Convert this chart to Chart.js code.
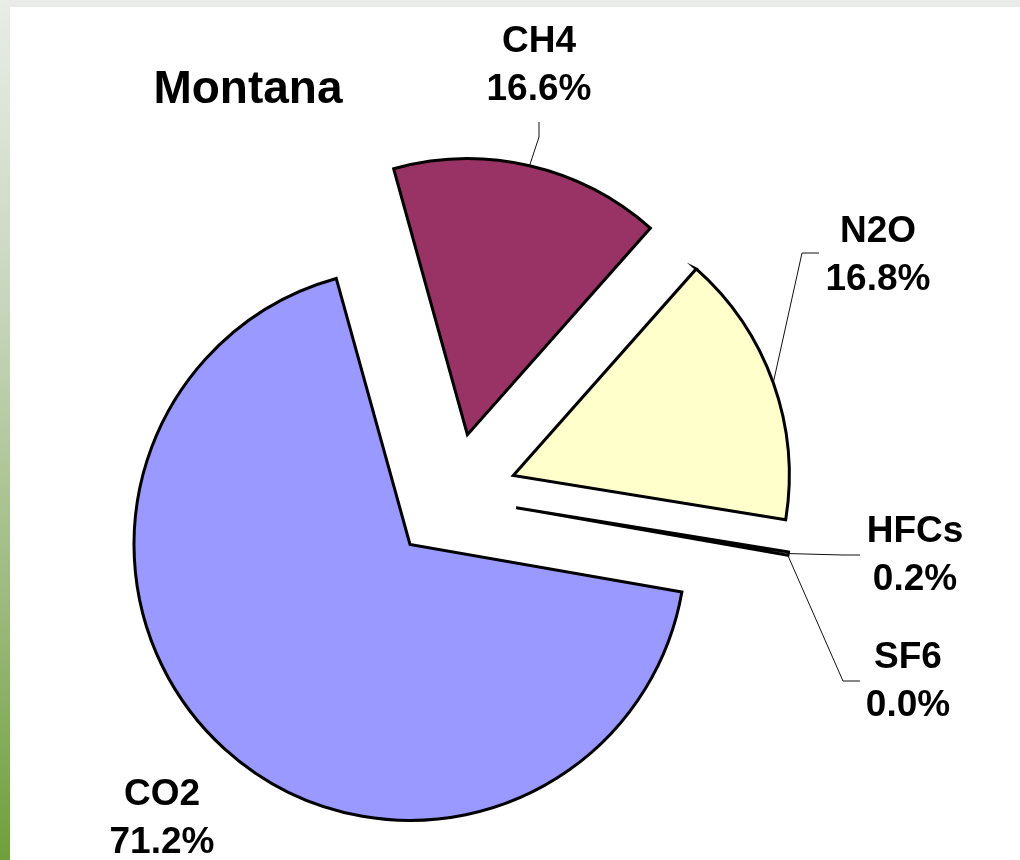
<!DOCTYPE html>
<html>
<head>
<meta charset="utf-8">
<title>Montana</title>
<script src="https://cdn.jsdelivr.net/npm/chart.js@4.4.1/dist/chart.umd.min.js"></script>
<style>
  body { margin: 0; background: #fff; }
  #wrap { position: relative; width: 1020px; height: 860px; overflow: hidden; background: #fff; }
  #topbar { position: absolute; left: 0; top: 0; width: 1020px; height: 7px; background: #e8ece6; }
  #sidebar { position: absolute; left: 0; top: 0; width: 10px; height: 860px;
    background: linear-gradient(#e8ede6, #c8d6bd 35%, #9cba7e 70%, #6f9f3b); }
  canvas { position: absolute; left: 0; top: 0; }
</style>
</head>
<body>
<div id="wrap">
  <div id="topbar"></div>
  <div id="sidebar"></div>
  <canvas id="pie" width="1020" height="860"></canvas>
</div>
<script>
// data, clockwise from the top
const gases = ["CH4", "N2O", "HFCs", "SF6", "CO2"];
const shares = [16.6, 16.8, 0.2, 0.0, 71.2];
const colors = ["#993366", "#FFFFCC", "#CCFFFF", "#660066", "#9999FF"];

const title = "Montana";
const font = '"Liberation Sans", Arial, sans-serif';
const explode = 64;

// where each label sits (center x, first baseline) and its leader elbow
const labelPos = [
  { x: 539, y: 52, leader: [[539, 122], [539, 137]] },
  { x: 878, y: 242, leader: [[819, 253], [802, 253]] },
  { x: 915, y: 542, leader: [[860, 555], [843, 555]] },
  { x: 908, y: 668, leader: [[860, 681], [843, 681]] },
  { x: 162, y: 805, leader: null },
];

// push every slice out along its middle angle
const explodePlugin = {
  id: "explode",
  beforeDatasetDraw(chart, args) {
    const ctx = chart.ctx;
    args.meta.data.forEach((arc) => {
      const mid = (arc.startAngle + arc.endAngle) / 2;
      ctx.save();
      ctx.translate(Math.cos(mid) * explode, Math.sin(mid) * explode);
      arc.draw(ctx);
      ctx.restore();
    });
    return false;
  },
};

const labelPlugin = {
  id: "labels",
  afterDraw(chart) {
    const ctx = chart.ctx;
    const arcs = chart.getDatasetMeta(0).data;
    ctx.save();
    ctx.fillStyle = "#000";
    ctx.textAlign = "center";
    ctx.textBaseline = "alphabetic";
    ctx.font = "bold 46px " + font;
    ctx.fillText(title, 248, 103);

    ctx.font = "bold 37px " + font;
    gases.forEach((g, i) => {
      const p = labelPos[i];
      ctx.fillText(g, p.x, p.y);
      ctx.fillText(shares[i].toFixed(1) + "%", p.x, p.y + 48);
      if (!p.leader) return;
      const arc = arcs[i];
      const mid = (arc.startAngle + arc.endAngle) / 2;
      const r = arc.outerRadius + explode;
      ctx.beginPath();
      ctx.strokeStyle = "#111";
      ctx.lineWidth = 1;
      ctx.moveTo(p.leader[0][0], p.leader[0][1]);
      ctx.lineTo(p.leader[1][0], p.leader[1][1]);
      ctx.lineTo(arc.x + Math.cos(mid) * r, arc.y + Math.sin(mid) * r);
      ctx.stroke();
    });
    ctx.restore();
  },
};

new Chart(document.getElementById("pie"), {
  type: "pie",
  data: {
    labels: gases,
    datasets: [
      {
        data: shares,
        backgroundColor: colors,
        borderColor: "#000",
        borderWidth: 3,
        borderJoinStyle: "miter",
      },
    ],
  },
  options: {
    responsive: false,
    animation: false,
    rotation: -15.5,
    radius: 276,
    layout: { padding: { left: 153, right: 267, top: 197, bottom: 63 } },
    plugins: {
      legend: { display: false },
      tooltip: { enabled: false },
    },
  },
  plugins: [explodePlugin, labelPlugin],
});
</script>
</body>
</html>
